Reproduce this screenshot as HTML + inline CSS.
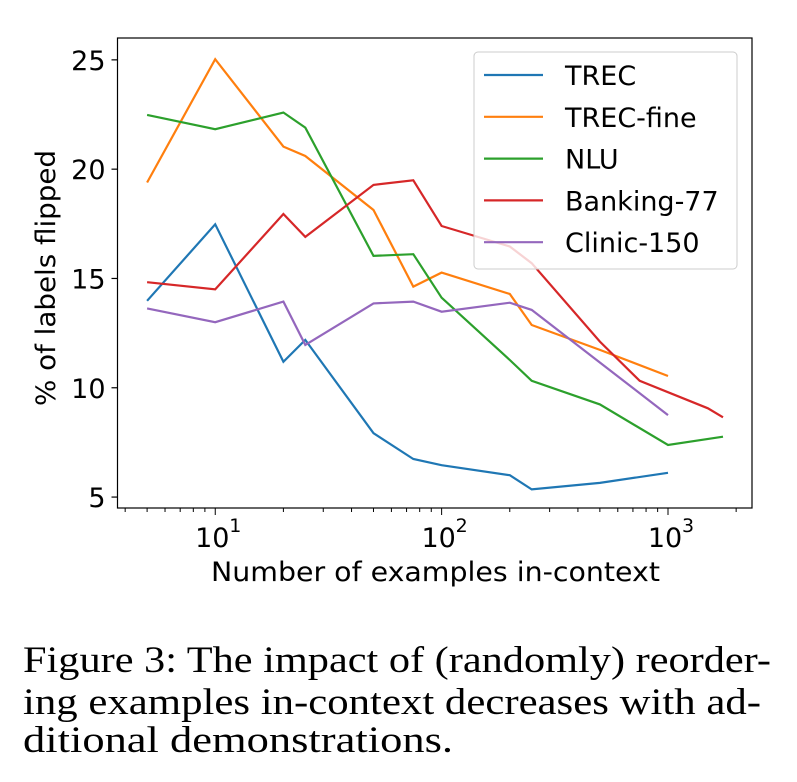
<!DOCTYPE html>
<html><head><meta charset="utf-8"><style>
html,body{margin:0;padding:0;background:#fff;}
svg{display:block;}
</style></head><body>
<svg id="chart" width="797" height="782" xmlns="http://www.w3.org/2000/svg">
<g id="plot"></g>
<g font-family="Liberation Serif, serif" font-size="37" fill="#000">
<text x="23" y="672" textLength="748" lengthAdjust="spacingAndGlyphs">Figure 3: The impact of (randomly) reorder-</text>
<text x="23" y="714" textLength="738" lengthAdjust="spacingAndGlyphs">ing examples in-context decreases with ad-</text>
<text x="23" y="752" textLength="430" lengthAdjust="spacingAndGlyphs">ditional demonstrations.</text>
</g>
</svg>
<script>
const seriesNames = ["TREC","TREC-fine","NLU","Banking-77","Clinic-150"];
const seriesColors = ["#1f77b4","#ff7f0e","#2ca02c","#d62728","#9467bd"];
const trecX = [5,10,20,25,50,75,100,200,250,500,1000];
const trecY = [13.98,17.48,11.19,12.19,7.92,6.74,6.46,6.0,5.35,5.65,6.11];
const fineX = [5,10,20,25,50,75,100,200,250,500,1000];
const fineY = [19.39,25.03,21.03,20.6,18.13,14.63,15.27,14.29,12.87,11.73,10.54];
const nluX = [5,10,20,25,50,75,100,200,250,500,1000,1750];
const nluY = [22.48,21.83,22.59,21.9,16.03,16.11,14.12,11.27,10.32,9.24,7.38,7.76];
const bankX = [5,10,20,25,50,75,100,200,250,500,750,1500,1750];
const bankY = [14.83,14.5,17.95,16.9,19.28,19.49,17.4,16.46,15.7,12.11,10.32,9.06,8.65];
const clinX = [5,10,20,25,50,75,100,200,250,1000];
const clinY = [13.63,13.0,13.94,11.96,13.86,13.94,13.48,13.89,13.56,8.75];
const yTicks = [5,10,15,20,25];
const xDecades = [1,2,3];

const L=117.5,R=752,T=38,B=508;
const xMin=Math.log10(3.7), xMax=Math.log10(2350), yMin=4.5, yMax=26.0;
function xs(v){return L+(Math.log10(v)-xMin)/(xMax-xMin)*(R-L);}
function ys(v){return B-(v-yMin)/(yMax-yMin)*(B-T);}
const NS="http://www.w3.org/2000/svg";
const g=document.getElementById('plot');
function mk(tag,attrs,parent){const e=document.createElementNS(NS,tag);for(const k in attrs)e.setAttribute(k,attrs[k]);(parent||g).appendChild(e);return e;}
const FONT="DejaVu Sans, Liberation Sans, sans-serif";

const all=[[trecX,trecY],[fineX,fineY],[nluX,nluY],[bankX,bankY],[clinX,clinY]];
all.forEach((s,i)=>{
  const p=mk('polyline',{points:s[0].map((x,j)=>xs(x).toFixed(1)+','+ys(s[1][j]).toFixed(1)).join(' '),fill:'none',stroke:seriesColors[i],'stroke-width':2.2,'stroke-linejoin':'miter'});
  
  
});

const frame=mk('rect',{x:L,y:T,width:R-L,height:B-T,fill:'none',stroke:'#000','stroke-width':1.2});



yTicks.forEach(v=>{
  const y=ys(v);
  const t=mk('line',{x1:L-6,x2:L,y1:y,y2:y,stroke:'#000','stroke-width':1.2});
  
  
  const tx=mk('text',{x:L-12,y:y+10,'text-anchor':'end','font-family':FONT,'font-size':27});
  tx.textContent=v;
  
  
});
for(let d=0;d<=3;d++){for(let m=1;m<10;m++){
  const v=m*Math.pow(10,d);const x=xs(v);
  if(x<L||x>R)continue;
  const major=m===1;
  const t=mk('line',{x1:x,x2:x,y1:B,y2:B+(major?7:4),stroke:'#000','stroke-width':1});
  
  
}}
xDecades.forEach(d=>{
  const x=xs(Math.pow(10,d));
  const tx=mk('text',{x:x-3,y:547,'text-anchor':'middle','font-family':FONT,'font-size':27});
  tx.textContent='10';
  
  
  const sup=mk('text',{x:x+14,y:532,'font-family':FONT,'font-size':19});
  sup.textContent=d;
  
  
});
const xl=mk('text',{x:211,y:581,textLength:449,lengthAdjust:'spacingAndGlyphs','font-family':FONT,'font-size':27});
xl.textContent='Number of examples in-context';


const yl=mk('text',{x:-128,y:0,textLength:256,lengthAdjust:'spacingAndGlyphs','font-family':FONT,'font-size':27,transform:'translate(55,278) rotate(-90)'});
yl.textContent='% of labels flipped';



const lg=mk('g',{});


mk('rect',{x:474,y:52,width:263,height:217,rx:4,fill:'#fff','fill-opacity':0.8,stroke:'#ccc','stroke-width':1},lg);
seriesNames.forEach((n,i)=>{
  const y=75+i*41.8;
  const ln=mk('line',{x1:484,x2:543,y1:y,y2:y,stroke:seriesColors[i],'stroke-width':2.2},lg);
  
  
  const tx=mk('text',{x:565,y:y+10,'font-family':FONT,'font-size':27},lg);
  tx.textContent=n;
  
  
});
</script>
</body></html>
